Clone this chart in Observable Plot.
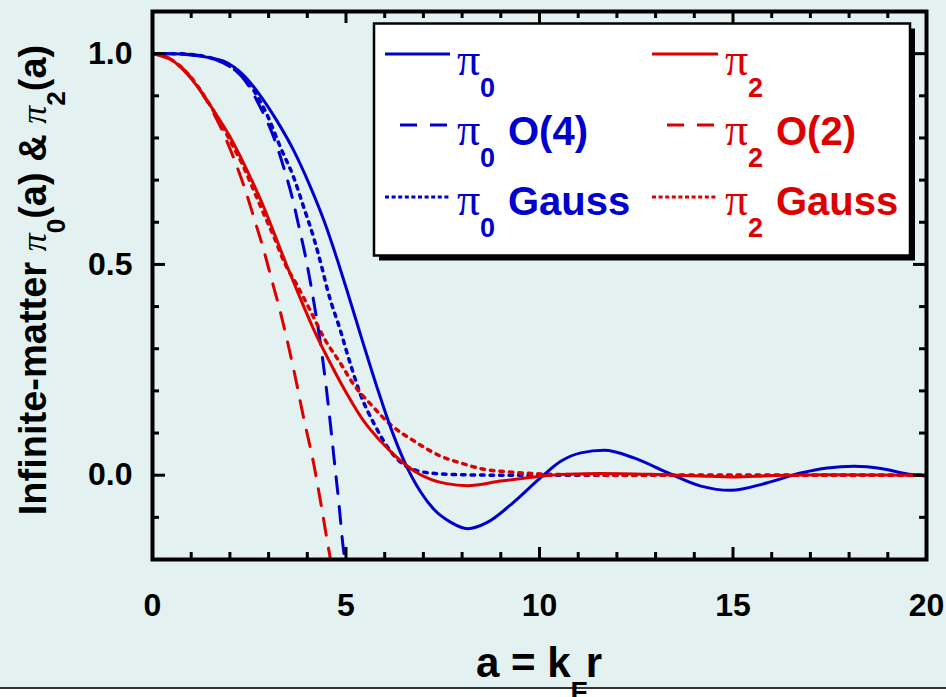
<!DOCTYPE html>
<html><head><meta charset="utf-8">
<script src="https://cdn.jsdelivr.net/npm/d3@7"></script>
<script src="https://cdn.jsdelivr.net/npm/@observablehq/plot@0.6"></script>
<style>
html,body{margin:0;padding:0;background:#fff;}
</style></head><body><div id="chart"></div>
<script>
// ---- data ----
const pi0A = [0, 0.5, 1.0, 1.5, 1.84, 2.36, 2.79, 3.22, 3.65, 4.08, 4.43, 4.8, 5.03, 5.46, 5.81, 6.15, 6.5, 6.93, 7.27, 7.71, 8.14, 8.65, 9.26, 10.03, 10.55, 11.07, 11.67, 12.44, 13.31, 14.17, 14.94, 15.89, 16.75, 17.44, 18.13, 18.82, 19.51, 20];
const pi0V = [1.0, 1.0, 0.997, 0.99, 0.982, 0.948, 0.90, 0.84, 0.77, 0.684, 0.604, 0.504, 0.437, 0.308, 0.206, 0.114, 0.034, -0.04, -0.081, -0.112, -0.127, -0.112, -0.07, -0.006, 0.033, 0.053, 0.059, 0.041, 0.006, -0.026, -0.036, -0.018, 0.005, 0.017, 0.021, 0.016, 0.003, -0.002];

const pi2A = [0, 0.21, 0.5, 0.81, 1.24, 1.58, 2.02, 2.45, 2.88, 3.22, 3.48, 3.74, 4.17, 4.6, 5.03, 5.46, 5.89, 6.33, 6.76, 7.19, 7.6, 8.14, 9.0, 9.69, 10.29, 11.0, 11.58, 12.87, 14.17, 15.0, 16.0, 17.5, 20];
const pi2V = [1.0, 0.995, 0.985, 0.96, 0.912, 0.865, 0.80, 0.722, 0.635, 0.556, 0.495, 0.437, 0.345, 0.265, 0.192, 0.128, 0.081, 0.041, 0.01, -0.01, -0.02, -0.025, -0.014, -0.006, 0.0, 0.003, 0.004, 0.002, -0.002, -0.004, -0.001, 0.001, 0.0];

const pi0O4A = [0, 0.5, 1.0, 1.5, 2.0, 2.36, 2.79, 3.14, 3.39, 3.61, 3.78, 3.96, 4.17, 4.39, 4.56, 4.69, 4.82, 4.93, 4.97];
const pi0O4V = [1.0, 1.0, 0.998, 0.99, 0.969, 0.94, 0.872, 0.80, 0.73, 0.659, 0.591, 0.516, 0.41, 0.28, 0.152, 0.041, -0.07, -0.173, -0.2];

const pi2O2A = [0, 0.5, 1.0, 1.5, 1.8, 2.1, 2.4, 2.62, 2.88, 3.07, 3.31, 3.65, 3.91, 4.17, 4.39, 4.58, 4.61];
const pi2O2V = [1.0, 0.986, 0.943, 0.872, 0.818, 0.752, 0.676, 0.611, 0.532, 0.467, 0.385, 0.25, 0.134, 0.025, -0.088, -0.19, -0.205];

const pi0GA = [0, 0.5, 1.0, 1.5, 2.0, 2.5, 2.97, 3.31, 3.65, 3.91, 4.17, 4.39, 4.52, 4.86, 5.12, 5.38, 5.72, 6.15, 6.58, 7.19, 8.0, 9.0, 20];
const pi0GV = [1.0, 1.0, 0.998, 0.99, 0.97, 0.928, 0.853, 0.777, 0.706, 0.635, 0.562, 0.488, 0.44, 0.342, 0.262, 0.19, 0.123, 0.057, 0.02, 0.005, 0.001, 0.0, 0.0];

const pi2GA = [0, 0.5, 1.0, 1.5, 2.1, 2.36, 2.62, 2.88, 3.14, 3.39, 3.74, 4.08, 4.43, 4.86, 5.2, 5.64, 6.15, 6.76, 7.19, 7.45, 7.96, 8.57, 9.17, 10.03, 11.0, 12.0, 20];
const pi2GV = [1.0, 0.985, 0.943, 0.876, 0.777, 0.73, 0.675, 0.619, 0.565, 0.508, 0.45, 0.39, 0.326, 0.265, 0.215, 0.168, 0.12, 0.081, 0.057, 0.045, 0.029, 0.014, 0.008, 0.003, 0.001, 0.0, 0.0];

const xMajor = [0, 5, 10, 15, 20];
const xMinor = [1, 2, 3, 4, 6, 7, 8, 9, 11, 12, 13, 14, 16, 17, 18, 19];
const yMajor = [0, 0.5, 1.0];
const yMinor = [-0.1, 0.1, 0.2, 0.3, 0.4, 0.6, 0.7, 0.8, 0.9];
const yTickLabels = ["0.0", "0.5", "1.0"];

const seriesSub = ["0", "2", "0", "2", "0", "2"];
const seriesSuffix = ["", "", "O(4)", "O(2)", "Gauss", "Gauss"];

// ---- styling ----
const blue = "#0000cc", red = "#dd0000";
const seriesA = [pi0A, pi2A, pi0O4A, pi2O2A, pi0GA, pi2GA];
const seriesV = [pi0V, pi2V, pi0O4V, pi2O2V, pi0GV, pi2GV];
const seriesColor = [blue, red, blue, red, blue, red];
const seriesDash = [null, null, "17,13", "17,13", "3.5,6", "3.5,6"];
const seriesWidth = [3, 3, 3, 3, 3.5, 3.5];

const W = 946, H = 697, mL = 152, mR = 20, mT = 11, mB = 138;
const innerW = W - mL - mR, innerH = H - mT - mB;
const sans = "'Liberation Sans', Arial, sans-serif";
const serif = "'Liberation Serif', 'Times New Roman', serif";

const drawOrder = [4, 5, 2, 3, 0, 1];
const lineMarks = drawOrder.map(k => Plot.line(
  seriesA[k].map((a, i) => ({a, v: seriesV[k][i]})),
  {x: "a", y: "v", stroke: seriesColor[k], strokeWidth: seriesWidth[k], strokeDasharray: seriesDash[k],
   curve: "monotone-x", clip: true}
));

const tk = {stroke: "black", strokeWidth: 3};
const svg = Plot.plot({
  width: W, height: H,
  marginLeft: mL, marginRight: mR, marginTop: mT, marginBottom: mB,
  x: {domain: [0, 20]},
  y: {domain: [-0.2, 1.1]},
  style: {
    background: "linear-gradient(to bottom, #e3f1f0 0px, #e3f1f0 687px, #333 687px, #333 689px, #ffffff 689px)",
    fontFamily: sans,
    overflow: "visible"
  },
  marks: [
    ...lineMarks,
    Plot.tickX(xMinor, {x: d => d, insetTop: innerH - 7, ...tk}),
    Plot.tickX(xMinor, {x: d => d, insetBottom: innerH - 7, ...tk}),
    Plot.tickX(xMajor, {x: d => d, insetTop: innerH - 12, ...tk}),
    Plot.tickX(xMajor, {x: d => d, insetBottom: innerH - 12, ...tk}),
    Plot.tickY(yMinor, {y: d => d, insetRight: innerW - 7, ...tk}),
    Plot.tickY(yMinor, {y: d => d, insetLeft: innerW - 7, ...tk}),
    Plot.tickY(yMajor, {y: d => d, insetRight: innerW - 13, ...tk}),
    Plot.tickY(yMajor, {y: d => d, insetLeft: innerW - 13, ...tk}),
    Plot.frame({stroke: "black", strokeWidth: 4}),
    Plot.axisX(xMajor, {anchor: "bottom", tickSize: 0, tickPadding: 34, fontSize: 32, fontWeight: "bold", label: null}),
    Plot.axisY(yMajor, {anchor: "left", tickSize: 0, tickPadding: 20, fontSize: 32, fontWeight: "bold", label: null,
      tickFormat: d => yTickLabels[yMajor.indexOf(d)]})
  ]
});
document.getElementById("chart").appendChild(svg);

const s = d3.select(svg);

// ---- legend ----
const lg = s.append("g").attr("text-anchor", "start");
const box = {x: 374, y: 23.5, w: 536, h: 232};
lg.append("rect").attr("x", box.x + 5).attr("y", box.y + 5).attr("width", box.w).attr("height", box.h).attr("fill", "black");
lg.append("rect").attr("x", box.x).attr("y", box.y).attr("width", box.w).attr("height", box.h)
  .attr("fill", "white").attr("stroke", "black").attr("stroke-width", 2.5);

const colX = [{s0: 385, s1: 450, t: 457}, {s0: 652, s1: 718, t: 725}];
const rowY = [{line: 54, base: 75}, {line: 125, base: 145}, {line: 197, base: 215}];
for (let k = 0; k < 6; k++) {
  const c = colX[k % 2], r = rowY[Math.floor(k / 2)];
  const dashed = seriesDash[k] === "17,13";
  const dotted = seriesDash[k] === "3.5,6";
  lg.append("line")
    .attr("x1", dashed ? c.s0 + 15 : c.s0).attr("x2", c.s1)
    .attr("y1", r.line).attr("y2", r.line)
    .attr("stroke", seriesColor[k]).attr("stroke-width", 3)
    .attr("stroke-dasharray", dotted ? "4,2.6" : seriesDash[k]);
  const t = lg.append("text").attr("text-anchor", "start").attr("fill", seriesColor[k]).attr("y", r.base).attr("x", c.t);
  t.append("tspan").attr("font-family", serif).attr("font-size", 46).text("π");
  t.append("tspan").attr("font-family", sans).attr("font-weight", "bold").attr("font-size", 27)
    .attr("x", c.t + 23).attr("dy", 22).text(seriesSub[k]);
  if (seriesSuffix[k]) {
    t.append("tspan").attr("font-family", sans).attr("font-weight", "bold").attr("font-size", 40)
      .attr("x", c.t + 51).attr("dy", -22).text(seriesSuffix[k]);
  }
}

// ---- axis titles ----
const yl = s.append("text")
  .attr("transform", `translate(46, 280) rotate(-90)`)
  .attr("text-anchor", "middle").attr("fill", "black")
  .attr("font-family", sans).attr("font-weight", "bold").attr("font-size", 38);
yl.append("tspan").text("Infinite-matter ");
yl.append("tspan").attr("font-family", serif).attr("font-style", "italic").attr("font-weight", "normal").attr("font-size", 36).text("π");
yl.append("tspan").attr("font-size", 26).attr("dy", 19).text("0");
yl.append("tspan").attr("dy", -19).text("(a) & ");
yl.append("tspan").attr("font-family", serif).attr("font-style", "italic").attr("font-weight", "normal").attr("font-size", 36).text("π");
yl.append("tspan").attr("font-size", 26).attr("dy", 19).text("2");
yl.append("tspan").attr("dy", -19).text("(a)");

const xl = s.append("text")
  .attr("x", mL + innerW / 2).attr("y", 677)
  .attr("text-anchor", "middle").attr("fill", "black")
  .attr("font-family", sans).attr("font-weight", "bold").attr("font-size", 42);
xl.append("tspan").text("a = k");
xl.append("tspan").attr("font-size", 28).attr("dy", 24).text("F");
xl.append("tspan").attr("dy", -24).attr("dx", -2).text("r");
</script></body></html>
